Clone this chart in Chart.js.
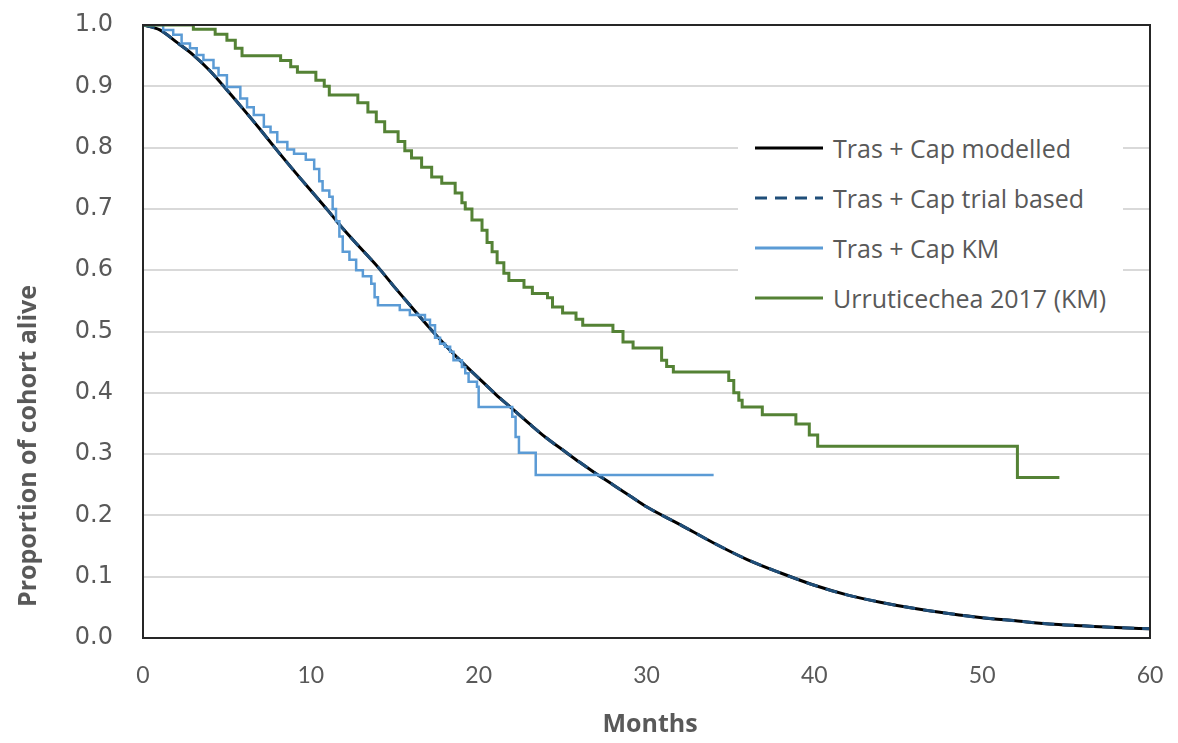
<!DOCTYPE html>
<html>
<head>
<meta charset="utf-8">
<script src="https://cdn.jsdelivr.net/npm/chart.js@4.4.1/dist/chart.umd.min.js"></script>
<style>
  html, body { margin: 0; padding: 0; background: #fff; }
  #wrap { position: relative; width: 1178px; height: 743px; }
  .axisTitle { position: absolute; font-family: 'Open Sans', sans-serif; font-weight: bold; font-size: 25px; color: #595959; white-space: nowrap; }
  #yTitle { left: 26px; top: 446px; transform: translate(-50%, -50%) rotate(-90deg); }
  #xTitle { left: 650px; top: 722px; transform: translate(-50%, -50%); }
  #legend { position: absolute; left: 738px; top: 122px; width: 385px; height: 200px; background: #fff; }
  .item { position: absolute; left: 0; height: 50px; display: flex; align-items: center; font-family: 'Open Sans', sans-serif; font-size: 25px; color: #595959; white-space: nowrap; }
  .item svg { margin-left: 17px; margin-right: 10px; }
</style>
</head>
<body>
<div id="wrap">
  <canvas id="myChart" width="1178" height="743"></canvas>
  <div class="axisTitle" id="yTitle">Proportion of cohort alive</div>
  <div class="axisTitle" id="xTitle">Months</div>
  <div id="legend"></div>
</div>
<script>
// tick labels
const xTicks = [0, 10, 20, 30, 40, 50, 60];
const yTicks = [0, 0.1, 0.2, 0.3, 0.4, 0.5, 0.6, 0.7, 0.8, 0.9, 1.0];

// Tras + Cap modelled
const modelMonths = [0, 1, 2, 3, 4, 5, 6, 7, 8, 9, 10, 11, 12, 13, 14, 15, 16, 17, 18, 19, 20,
  21, 22, 23, 24, 25, 26, 27, 28, 29, 30, 32, 34, 36, 38, 40, 42, 44, 46, 48, 50, 52, 54, 56, 58, 60];
const modelValues = [1.0, 0.992, 0.972, 0.951, 0.925, 0.894, 0.862, 0.829, 0.795, 0.762, 0.73, 0.698, 0.665, 0.635, 0.605, 0.572, 0.54, 0.508, 0.478, 0.45, 0.424,
  0.398, 0.374, 0.35, 0.327, 0.307, 0.287, 0.268, 0.25, 0.232, 0.214, 0.185, 0.155, 0.128, 0.106, 0.086, 0.07, 0.058, 0.048, 0.04, 0.033, 0.028, 0.023, 0.02, 0.017, 0.015];

// Tras + Cap trial based (dashed, lies on the modelled curve)
const trialMonths = [0, 1, 2, 3, 4, 5, 6, 7, 8, 9, 10, 11, 12, 13, 14, 15, 16, 17, 18, 19, 20,
  21, 22, 23, 24, 25, 26, 27, 28, 29, 30, 32, 34, 36, 38, 40, 42, 44, 46, 48, 50, 52, 54, 56, 58, 60];
const trialValues = [1.0, 0.992, 0.972, 0.951, 0.925, 0.894, 0.862, 0.829, 0.795, 0.762, 0.73, 0.698, 0.665, 0.635, 0.605, 0.572, 0.54, 0.508, 0.478, 0.45, 0.424,
  0.398, 0.374, 0.35, 0.327, 0.307, 0.287, 0.268, 0.25, 0.232, 0.214, 0.185, 0.155, 0.128, 0.106, 0.086, 0.07, 0.058, 0.048, 0.04, 0.033, 0.028, 0.023, 0.02, 0.017, 0.015];

// Tras + Cap KM (time of drop, survival after drop)
const kmMonths = [0, 1.2, 1.8, 2.3, 2.8, 3.2, 3.6, 4.2, 4.5, 5.0, 5.8, 6.2, 6.6, 7.2, 7.6, 8.0, 8.6, 9.0, 9.7,
  10.2, 10.5, 10.7, 11.1, 11.3, 11.5, 11.7, 11.9, 12.3, 12.7, 13.1, 13.6, 13.8, 14.0, 15.3, 15.9, 16.8,
  17.1, 17.4, 17.7, 18.0, 18.3, 18.5, 19.0, 19.2, 19.4, 19.9, 20.0, 22.0, 22.2, 22.4, 23.4, 34.0];
const kmValues = [1.0, 0.992, 0.984, 0.97, 0.962, 0.951, 0.943, 0.93, 0.918, 0.899, 0.88, 0.866, 0.853, 0.834, 0.825, 0.809, 0.797, 0.79, 0.78,
  0.765, 0.745, 0.73, 0.72, 0.70, 0.68, 0.655, 0.63, 0.617, 0.60, 0.59, 0.578, 0.556, 0.543, 0.535, 0.527, 0.519,
  0.51, 0.49, 0.48, 0.475, 0.467, 0.453, 0.442, 0.432, 0.418, 0.41, 0.377, 0.361, 0.328, 0.302, 0.266, 0.266];

// Urruticechea 2017 (KM)
const urrMonths = [0, 3.0, 4.3, 5.0, 5.5, 5.9, 8.2, 8.8, 9.2, 10.3, 10.8, 11.1, 12.8, 13.4, 13.9, 14.4, 15.2, 15.6,
  16.0, 16.6, 17.2, 17.8, 18.6, 19.0, 19.2, 19.6, 20.2, 20.5, 20.8, 21.1, 21.5, 21.8, 22.7, 23.2, 24.1, 24.4,
  25.0, 25.8, 26.2, 28.0, 28.6, 29.2, 30.9, 31.2, 31.6, 34.9, 35.2, 35.5, 35.7, 36.9, 38.9, 39.7, 40.2, 52.1, 54.6];
const urrValues = [1.0, 0.993, 0.985, 0.975, 0.962, 0.95, 0.942, 0.932, 0.923, 0.91, 0.90, 0.886, 0.873, 0.858, 0.842, 0.826, 0.81, 0.795,
  0.783, 0.768, 0.752, 0.742, 0.726, 0.71, 0.70, 0.682, 0.665, 0.645, 0.63, 0.612, 0.595, 0.583, 0.572, 0.562, 0.555, 0.54,
  0.53, 0.52, 0.51, 0.50, 0.483, 0.473, 0.453, 0.443, 0.434, 0.42, 0.40, 0.388, 0.377, 0.364, 0.349, 0.331, 0.313, 0.262, 0.262];

const toPoints = (xs, ys) => xs.map((x, i) => ({ x: x, y: ys[i] }));

const datasets = [
  { label: 'Tras + Cap modelled', data: toPoints(modelMonths, modelValues), borderColor: '#000000',
    borderWidth: 3, cubicInterpolationMode: 'monotone', order: 3 },
  { label: 'Tras + Cap trial based', data: toPoints(trialMonths, trialValues), borderColor: '#1F4E79',
    borderWidth: 3, borderDash: [12, 8], cubicInterpolationMode: 'monotone', order: 2 },
  { label: 'Tras + Cap KM', data: toPoints(kmMonths, kmValues), borderColor: '#5B9BD5',
    borderWidth: 2.5, stepped: true, order: 1 },
  { label: 'Urruticechea 2017 (KM)', data: toPoints(urrMonths, urrValues), borderColor: '#548235',
    borderWidth: 3, stepped: true, order: 0 }
];

// frame round the plot area
const framePlugin = {
  id: 'frame',
  afterDatasetsDraw(chart) {
    const { ctx, chartArea: a } = chart;
    ctx.save();
    ctx.strokeStyle = '#262626';
    ctx.lineWidth = 2;
    ctx.strokeRect(a.left, a.top, a.right - a.left, a.bottom - a.top);
    ctx.restore();
  }
};

new Chart(document.getElementById('myChart'), {
  type: 'line',
  data: { datasets: datasets },
  options: {
    responsive: false,
    animation: false,
    elements: { point: { radius: 0 } },
    layout: { autoPadding: false, padding: { left: 0, top: 25, right: 28, bottom: 0 } },
    plugins: { legend: { display: false }, tooltip: { enabled: false } },
    scales: {
      x: {
        type: 'linear', min: 0, max: 60,
        afterBuildTicks: s => { s.ticks = xTicks.map(v => ({ value: v })); },
        afterFit: s => { s.height = 105; s.paddingLeft = 0; s.paddingRight = 0; },
        grid: { display: false, drawTicks: false },
        border: { display: false },
        ticks: { padding: 24, color: '#595959', font: { family: 'Lato', size: 23 } }
      },
      y: {
        min: 0, max: 1,
        afterBuildTicks: s => { s.ticks = yTicks.map(v => ({ value: v })); },
        afterFit: s => { s.width = 143; s.paddingTop = 0; s.paddingBottom = 0; },
        grid: { color: '#D9D9D9', lineWidth: 2, drawTicks: false },
        border: { display: false },
        ticks: { padding: 30, color: '#595959', font: { family: 'DejaVu Sans', size: 24 },
          callback: v => v.toFixed(1) }
      }
    }
  },
  plugins: [framePlugin]
});

// legend drawn inside the plot, as in the original
const legend = document.getElementById('legend');
datasets.forEach((ds, i) => {
  const row = document.createElement('div');
  row.className = 'item';
  row.style.top = (1 + i * 50) + 'px';
  const dash = ds.borderDash ? ' stroke-dasharray="' + ds.borderDash.join(' ') + '"' : '';
  row.innerHTML = '<svg width="68" height="8"><line x1="0" y1="4" x2="68" y2="4" stroke="' + ds.borderColor +
    '" stroke-width="3"' + dash + '/></svg><span>' + ds.label + '</span>';
  legend.appendChild(row);
});
</script>
</body>
</html>
